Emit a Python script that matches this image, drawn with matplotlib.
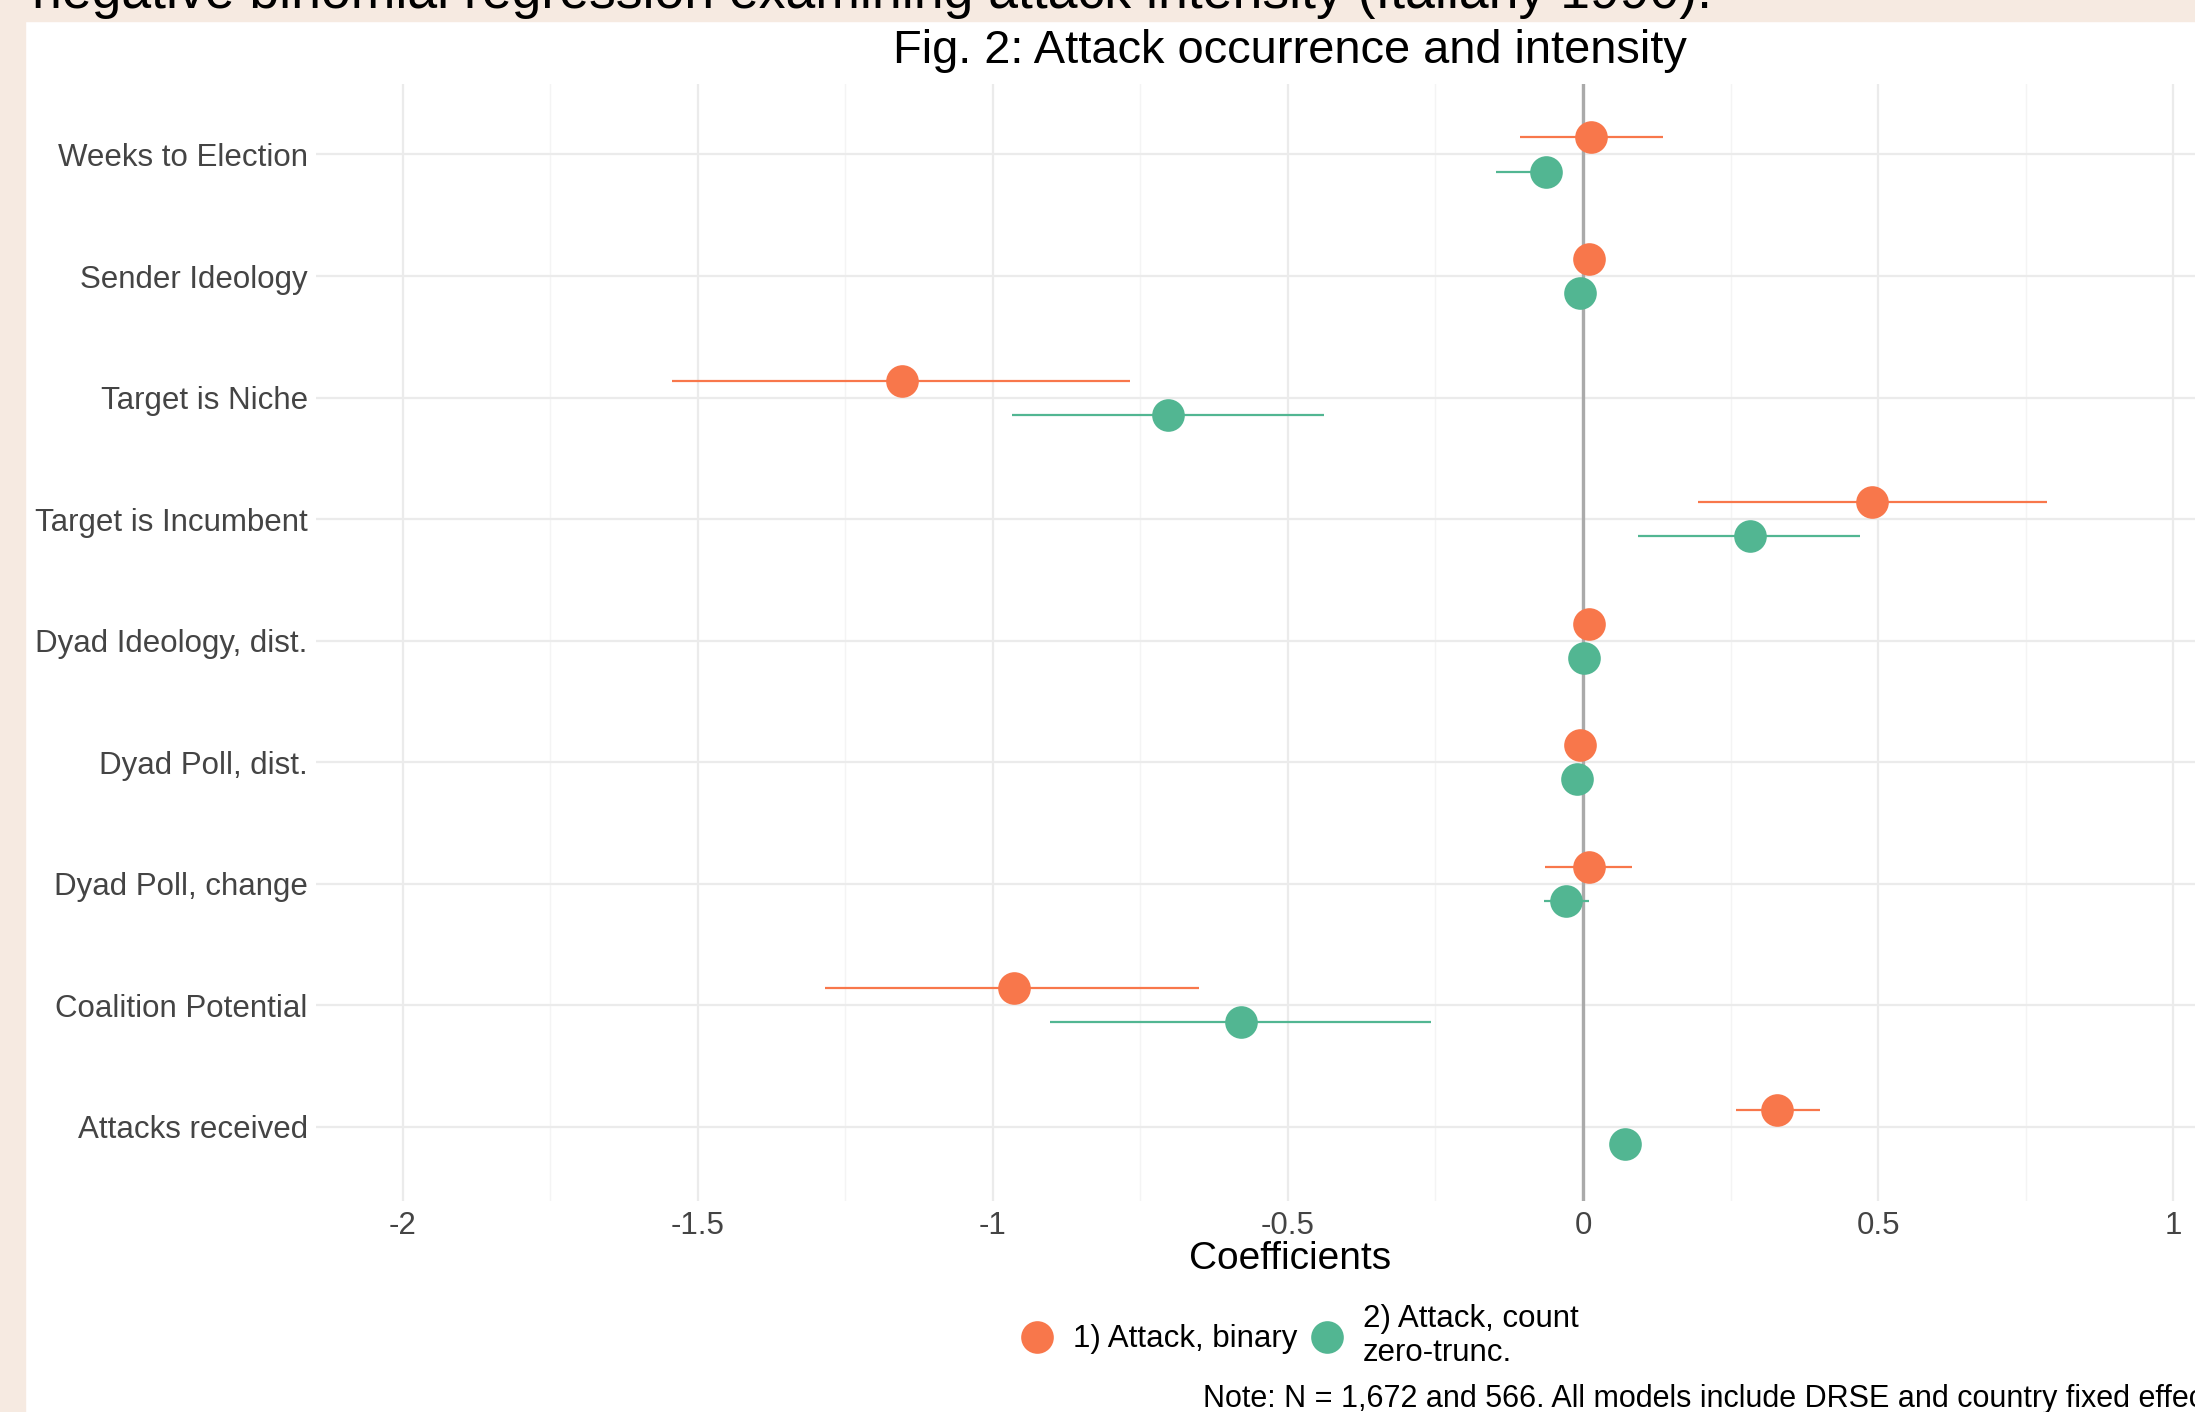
import numpy as np
import matplotlib.pyplot as plt
from matplotlib.lines import Line2D
from matplotlib.patches import Rectangle
from matplotlib.ticker import FixedLocator

plt.rcParams['font.family'] = ['Liberation Sans', 'DejaVu Sans']

# Dados
variaveis = ['Weeks to Election', 'Sender Ideology', 'Target is Niche',
             'Target is Incumbent', 'Dyad Ideology, dist.', 'Dyad Poll, dist.',
             'Dyad Poll, change', 'Coalition Potential', 'Attacks received']

# Modelo 1) Attack, binary
coef_bin = [0.014, 0.010, -1.154, 0.489, 0.010, -0.005, 0.010, -0.964, 0.328]
lo_bin = [-0.107, 0.002, -1.544, 0.195, 0.004, -0.010, -0.064, -1.285, 0.259]
hi_bin = [0.135, 0.018, -0.767, 0.786, 0.016, 0.000, 0.083, -0.651, 0.401]

# Modelo 2) Attack, count zero-trunc.
coef_cnt = [-0.062, -0.005, -0.703, 0.283, 0.002, -0.010, -0.028, -0.580, 0.071]
lo_cnt = [-0.147, -0.012, -0.967, 0.093, -0.004, -0.018, -0.066, -0.903, 0.060]
hi_cnt = [-0.040, 0.002, -0.439, 0.470, 0.008, -0.002, 0.010, -0.257, 0.082]

ticks_x = [-2, -1.5, -1, -0.5, 0, 0.5, 1]
ticks_lbl = ['-2', '-1.5', '-1', '-0.5', '0', '0.5', '1']

cor_bin = '#F8774B'
cor_cnt = '#52B692'
W, H = 2195, 1412

fig = plt.figure(figsize=(W / 100, H / 100), dpi=100)
fig.patch.set_facecolor('white')

# Faixas bege do slide
bege = '#F6EAE1'
fig.patches.append(Rectangle((0, 0), 25 / W, 1, transform=fig.transFigure, color=bege, zorder=0))
fig.patches.append(Rectangle((0, 1 - 21 / H), 1, 21 / H, transform=fig.transFigure, color=bege, zorder=0))
fig.text(32 / W, 1 - 8 / H, 'negative binomial regression examining attack intensity (Italiany 1990).',
         fontsize=38.5, ha='left', va='baseline', color='black')

esq, dir_ = 316, 2264
topo, base = 84, 1201
ax = fig.add_axes([esq / W, 1 - base / H, (dir_ - esq) / W, (base - topo) / H])
ax.set_facecolor('none')
for s in ax.spines.values():
    s.set_visible(False)

n = len(variaveis)
y = np.arange(n, 0, -1)
dodge = 0.14

ax.set_xlim(-2.147, 1.154)
ax.set_ylim(0.39, n + 0.58)

ax.xaxis.set_minor_locator(FixedLocator([-1.75, -1.25, -0.75, -0.25, 0.25, 0.75, 1.25]))
ax.set_xticks(ticks_x, ticks_lbl)
ax.set_yticks(y, variaveis)
ax.grid(True, which='major', color='#EBEBEB', linewidth=1.6)
ax.grid(True, which='minor', axis='x', color='#F4F4F4', linewidth=1.0)
ax.set_axisbelow(True)
ax.tick_params(axis='both', which='both', length=0, labelsize=22.5, labelcolor='#444444')
ax.tick_params(axis='y', pad=6)
ax.tick_params(axis='x', pad=7)

ax.axvline(0, color='#AAAAAA', linewidth=2.4, zorder=1)

ax.hlines(y + dodge, lo_bin, hi_bin, color=cor_bin, linewidth=1.6, zorder=2)
ax.hlines(y - dodge, lo_cnt, hi_cnt, color=cor_cnt, linewidth=1.6, zorder=2)
ax.plot(coef_bin, y + dodge, 'o', color=cor_bin, markersize=23.5, markeredgewidth=0, zorder=3)
ax.plot(coef_cnt, y - dodge, 'o', color=cor_cnt, markersize=23.5, markeredgewidth=0, zorder=3)

centro = 1290 / W
fig.text(centro, 1 - 51 / H, 'Fig. 2: Attack occurrence and intensity', fontsize=33.8,
         ha='center', va='center', color='black')
fig.text(centro, 1 - 1259 / H, 'Coefficients', fontsize=28, ha='center', va='center', color='black')

handles = [Line2D([], [], marker='o', linestyle='none', color=cor_bin, markersize=23.5, markeredgewidth=0),
           Line2D([], [], marker='o', linestyle='none', color=cor_cnt, markersize=23.5, markeredgewidth=0)]
fig.legend(handles, ['1) Attack, binary', '2) Attack, count\nzero-trunc.'], loc='center',
           bbox_to_anchor=(1300 / W, 1 - 1336 / H), ncol=2, frameon=False, fontsize=22.5,
           handletextpad=0.65, columnspacing=0.45, handlelength=1.0, labelspacing=0.2)

fig.text(1203 / W, 1 - 1399 / H, 'Note: N = 1,672 and 566. All models include DRSE and country fixed effects.',
         fontsize=22, ha='left', va='center', color='black')

fig.savefig('out.png', dpi=100)
